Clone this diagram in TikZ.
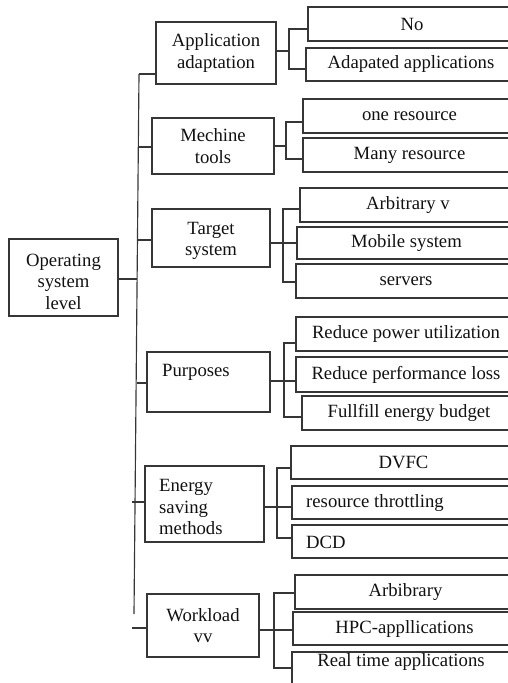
\documentclass[tikz,border=0pt]{standalone}
\usepackage{fontspec}
\setmainfont{Liberation Serif}
\definecolor{linec}{HTML}{363636}
\definecolor{txtc}{HTML}{111111}
\newcommand\mkbox[6]{%
  \pgfmathsetmacro\bcx{(#2+#4)/2}%
  \pgfmathsetmacro\bcy{(#3+#5)/2}%
  \pgfmathsetmacro\bw{#4-#2}%
  \pgfmathsetmacro\bh{#5-#3}%
  \node[box, minimum width=\bw pt, minimum height=\bh pt] (#1) at (\bcx,\bcy) {#6};}
\begin{document}
\begin{tikzpicture}[x=1pt,y=-1pt,
  box/.style={draw=linec, line width=1.15pt, inner sep=0pt, align=center, text=txtc,
    font=\fontsize{18.7}{21.5}\selectfont},
  txt/.style={inner sep=0pt, align=left, text=txtc, font=\fontsize{18.7}{21.5}\selectfont},
  ln/.style={draw=linec, line width=1.15pt}]
\useasboundingbox (0,0) rectangle (508,683);
% left column
\mkbox{os}{9}{239}{118}{316}{}
\node[txt, align=center] (ost) at (63.5,281.5) {Operating\\system\\level};
\mkbox{app}{156}{22}{276}{84}{Application\\adaptation}
\mkbox{mech}{152}{118}{274}{174}{Mechine\\tools}
\mkbox{tgt}{152}{209}{270}{267}{}
\node[txt, align=center] (tgtt) at (211,241) {Target\\system};
\mkbox{pur}{147}{352}{270}{412}{}
\node[txt, anchor=west] (purt) at (162,372) {Purposes};
\mkbox{ene}{145}{466}{264}{542}{}
\node[txt, anchor=west] (enet) at (159,507) {Energy\\saving\\methods};
\mkbox{wl}{147}{594}{259}{657}{Workload\\vv}
% right column
\mkbox{no}{308}{7}{516}{41}{No}
\mkbox{adp}{306}{48}{516}{81}{Adapated applications}
\mkbox{one}{303}{99}{516}{133}{one resource}
\mkbox{many}{303}{138}{516}{172}{Many resource}
\mkbox{arb}{300}{188}{516}{222}{Arbitrary v}
\mkbox{mob}{297}{227}{516}{259}{Mobile system}
\mkbox{srv}{296}{264}{516}{298}{servers}
\mkbox{rpu}{296}{317}{516}{351}{Reduce power utilization}
\mkbox{rpl}{296}{357}{516}{392}{Reduce performance loss}
\mkbox{feb}{302}{396}{516}{430}{Fullfill energy budget}
\mkbox{dvfc}{291}{446}{516}{479}{DVFC}
\mkbox{rth}{292}{486}{516}{519}{}
\node[txt, anchor=west] (rtht) at (306,503) {resource throttling};
\mkbox{dcd}{292}{525}{516}{558}{}
\node[txt, anchor=west] (dcdt) at (306,542) {DCD};
\mkbox{arbb}{295}{575}{516}{609}{Arbibrary}
\mkbox{hpc}{293}{612}{516}{645}{HPC-appllications}
\mkbox{rta}{292}{652}{516}{700}{}
\node[txt, anchor=center] (rtat) at (401,662) {Real time applications};
% trunk
\coordinate (t0) at (139,74);
\coordinate (t1) at (134,614);
\draw[ln] (t0) -- (t1);
\coordinate (bm) at (138.5,147);
\coordinate (bt) at (137.9,240);
\coordinate (bos) at (137.4,279);
\coordinate (bp) at (136.5,383);
\coordinate (be) at (132,502);
\coordinate (bw) at (132,628);
\draw[ln] (t0) -- (t0 -| app.west);
\draw[ln] (bm) -- (bm -| mech.west);
\draw[ln] (bt) -- (bt -| tgt.west);
\draw[ln] (os.east |- bos) -- (bos);
\draw[ln] (bp) -- (bp -| pur.west);
\draw[ln] (be) -- (be -| ene.west);
\draw[ln] (bw) -- (bw -| wl.west);
% application adaptation bracket
\coordinate (ja) at (289,51);
\coordinate (ja1) at (289,29);
\coordinate (ja2) at (289,69);
\draw[ln] (app.east |- ja) -- (ja);
\draw[ln] (ja1 -| no.west) -- (ja1) -- (ja2) -- (ja2 -| adp.west);
% mechine tools bracket
\coordinate (jm) at (286,146);
\coordinate (jm1) at (286,122);
\coordinate (jm2) at (286,159);
\draw[ln] (mech.east |- jm) -- (jm);
\draw[ln] (jm1 -| one.west) -- (jm1) -- (jm2) -- (jm2 -| many.west);
% target system bracket
\coordinate (jt) at (283,243);
\coordinate (jt1) at (283,209);
\coordinate (jt2) at (283,282);
\draw[ln] (tgt.east |- jt) -- (jt -| mob.west);
\draw[ln] (jt1 -| arb.west) -- (jt1) -- (jt2) -- (jt2 -| srv.west);
% purposes bracket
\coordinate (jp) at (284,381);
\coordinate (jp1) at (284,343);
\coordinate (jp2) at (284,417);
\draw[ln] (pur.east |- jp) -- (jp -| rpl.west);
\draw[ln] (jp1 -| rpu.west) -- (jp1) -- (jp2) -- (jp2 -| feb.west);
% energy bracket
\coordinate (je) at (277,507);
\coordinate (je1) at (277,468);
\coordinate (je2) at (277,538);
\draw[ln] (ene.east |- je) -- (je -| rth.west);
\draw[ln] (je1 -| dvfc.west) -- (je1) -- (je2) -- (je2 -| dcd.west);
% workload bracket
\coordinate (jw) at (274,630);
\coordinate (jw1) at (274,593);
\coordinate (jw2) at (274,668);
\draw[ln] (wl.east |- jw) -- (jw -| hpc.west);
\draw[ln] (jw1 -| arbb.west) -- (jw1) -- (jw2) -- (jw2 -| rta.west);
\end{tikzpicture}
\end{document}
